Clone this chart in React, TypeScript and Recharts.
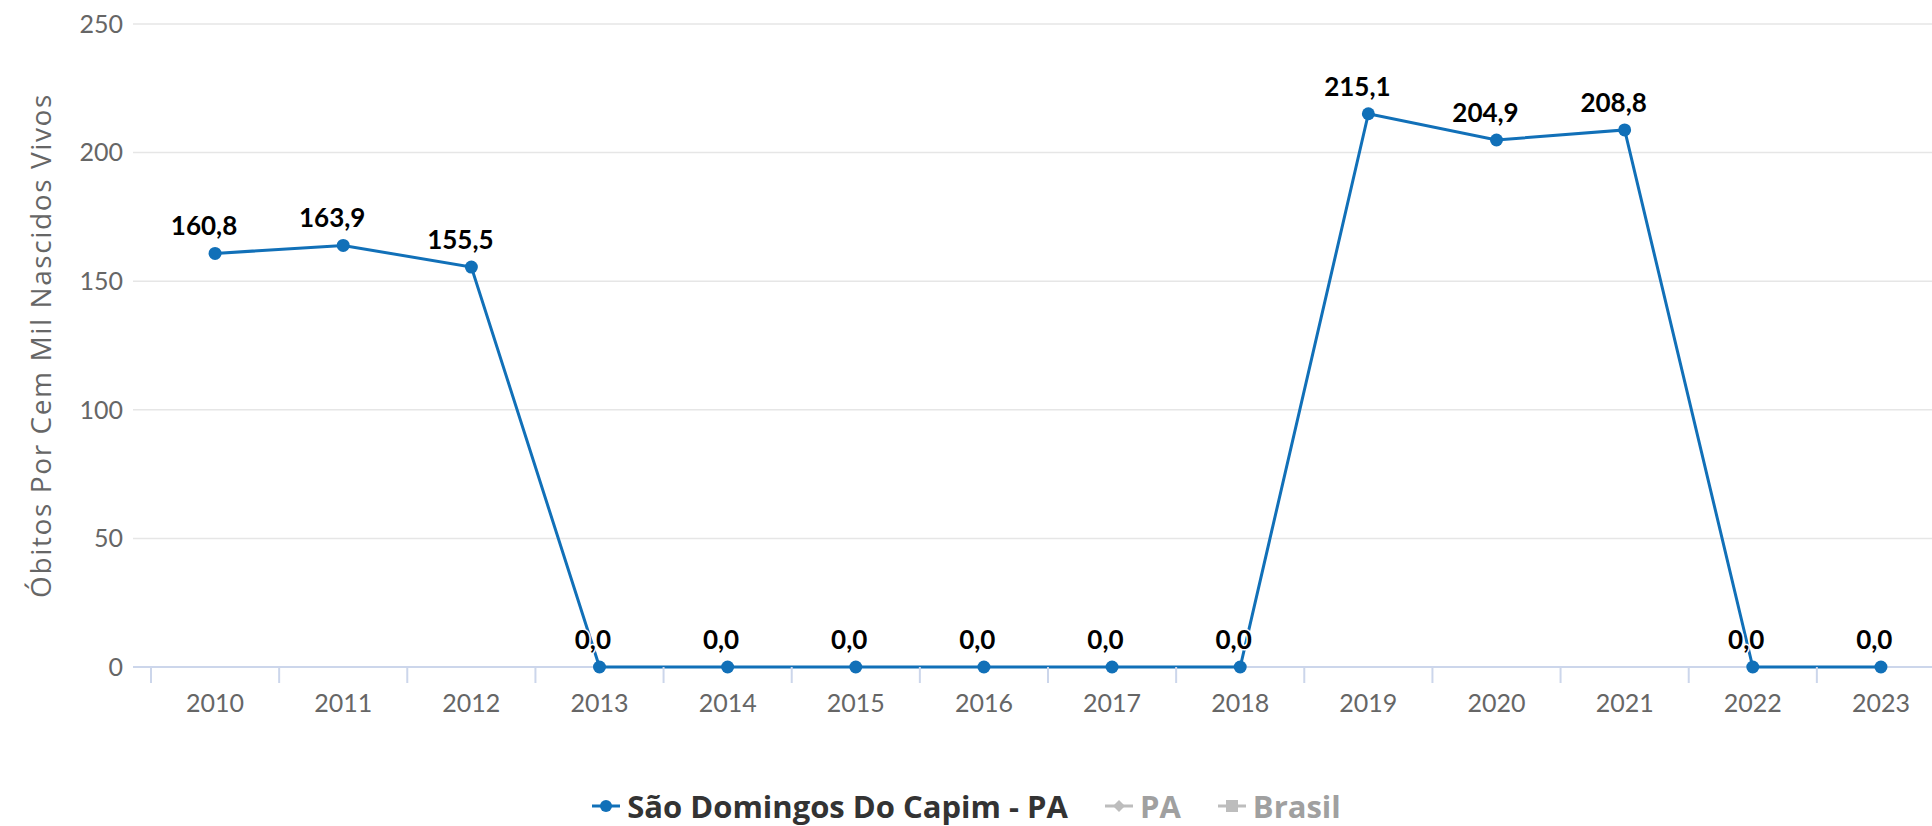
import React from 'react';
import { LineChart, Line, XAxis, YAxis, CartesianGrid, LabelList, Legend } from 'recharts';

const years = [2010, 2011, 2012, 2013, 2014, 2015, 2016, 2017, 2018, 2019, 2020, 2021, 2022, 2023];
const values = [160.8, 163.9, 155.5, 0, 0, 0, 0, 0, 0, 215.1, 204.9, 208.8, 0, 0];
const yTicks = [0, 50, 100, 150, 200, 250];
const boundaryTicks = [2009.5, 2010.5, 2011.5, 2012.5, 2013.5, 2014.5, 2015.5, 2016.5, 2017.5, 2018.5, 2019.5, 2020.5, 2021.5, 2022.5, 2023.5];
const seriesName = 'São Domingos Do Capim - PA';
const legendItems = [
  { name: 'São Domingos Do Capim - PA', active: true, marker: 'circle' },
  { name: 'PA', active: false, marker: 'diamond' },
  { name: 'Brasil', active: false, marker: 'square' },
];

const data = years.map((y, i) => ({ year: y, value: values[i] }));
const xTicks = [...boundaryTicks, ...years].sort((a, b) => a - b);

const FONT = 'Lato, "DejaVu Sans", sans-serif';
const FONT2 = '"Open Sans", "DejaVu Sans", sans-serif';
const BLUE = '#1170b8';

const fmt = (v: number) => v.toFixed(1).replace('.', ',');

const renderLegend = () => (
  <div style={{ display: 'flex', justifyContent: 'center', alignItems: 'center', height: 40, fontFamily: FONT2 }}>
    {legendItems.map((it, i) => {
      const color = it.active ? BLUE : '#bdbdbd';
      return (
        <div key={it.name} style={{ display: 'flex', alignItems: 'center', marginRight: i < legendItems.length - 1 ? 36 : 0 }}>
          <svg width={30} height={20} style={{ marginRight: 6 }}>
            <line x1={1} y1={10} x2={29} y2={10} stroke={color} strokeWidth={3} />
            {it.marker === 'circle' && <circle cx={15} cy={10} r={6} fill={color} />}
            {it.marker === 'diamond' && <path d="M15 4 L21 10 L15 16 L9 10 Z" fill={color} />}
            {it.marker === 'square' && <rect x={9} y={4} width={12} height={12} fill={color} />}
          </svg>
          <span style={{ fontSize: 31, fontWeight: 700, color: it.active ? '#333333' : '#a0a0a0' }}>{it.name}</span>
        </div>
      );
    })}
  </div>
);

const YTitle = (props: any) => {
  const vb = props.viewBox || {};
  const cx = vb.x + 20;
  const cy = vb.y + vb.height / 2;
  return (
    <text x={cx} y={cy} transform={`rotate(-90 ${cx} ${cy})`} textAnchor="middle" dominantBaseline="central"
      fill="#666666" fontSize={28} letterSpacing={1.6} fontFamily={FONT2}>
      Óbitos Por Cem Mil Nascidos Vivos
    </text>
  );
};

const XTick = (props: any) => {
  const { x, y, payload } = props;
  const v = payload.value;
  if (!Number.isInteger(v)) {
    return <line x1={x} y1={y} x2={x} y2={y + 16} stroke="#ccd6eb" strokeWidth={2} />;
  }
  return (
    <text x={x} y={y + 27} dy="0.71em" textAnchor="middle" fill="#666666" fontSize={25} fontFamily={FONT}>
      {v}
    </text>
  );
};

const DataLabel = (props: any) => {
  const vb = props.viewBox || {};
  const x = props.x ?? vb.x;
  const y = props.y ?? vb.y;
  const s = fmt(Number(props.value));
  return (
    <text x={x - s.length * 2.2} y={y - 18} textAnchor="middle" fontSize={26} fontWeight={700} fill="#000000"
      fontFamily={FONT} stroke="#ffffff" strokeWidth={3} paintOrder="stroke">
      {s}
    </text>
  );
};

const baselineOnly = (args: any) => {
  const o = args.offset || {};
  return [o.top + o.height];
};

export default function App() {
  return (
    <div style={{ position: 'absolute', left: 0, top: 0, width: 1932, height: 826, overflow: 'hidden', background: '#fff' }}>
      <LineChart width={1960} height={826} data={data} margin={{ top: 24, right: 15, left: 20, bottom: 59 }}>
        <CartesianGrid vertical={false} stroke="#e6e6e6" strokeWidth={1.5} />
        <CartesianGrid vertical={false} stroke="#ccd6eb" strokeWidth={2} horizontalCoordinatesGenerator={baselineOnly} />
        <XAxis dataKey="year" type="number" domain={[2009.5, 2023.5]} allowDataOverflow
          ticks={xTicks} interval={0} padding={{ left: 18, right: 0 }} height={60}
          tickLine={false} tickSize={0} tickMargin={0} tick={<XTick />} axisLine={false} />
        <YAxis domain={[0, 250]} ticks={yTicks} width={113} axisLine={false} tickLine={false} tickSize={0} tickMargin={10}
          tick={{ fill: '#666666', fontSize: 25, fontFamily: FONT }} label={<YTitle />} />
        <Legend verticalAlign="bottom" content={renderLegend}
          wrapperStyle={{ left: 0, width: 1932, bottom: 0, height: 40 }} />
        <Line type="linear" dataKey="value" name={seriesName} stroke={BLUE} strokeWidth={3}
          dot={{ r: 6.5, fill: BLUE, stroke: BLUE, strokeWidth: 0 }} activeDot={false} isAnimationActive={false}>
          <LabelList dataKey="value" content={<DataLabel />} />
        </Line>
      </LineChart>
    </div>
  );
}
